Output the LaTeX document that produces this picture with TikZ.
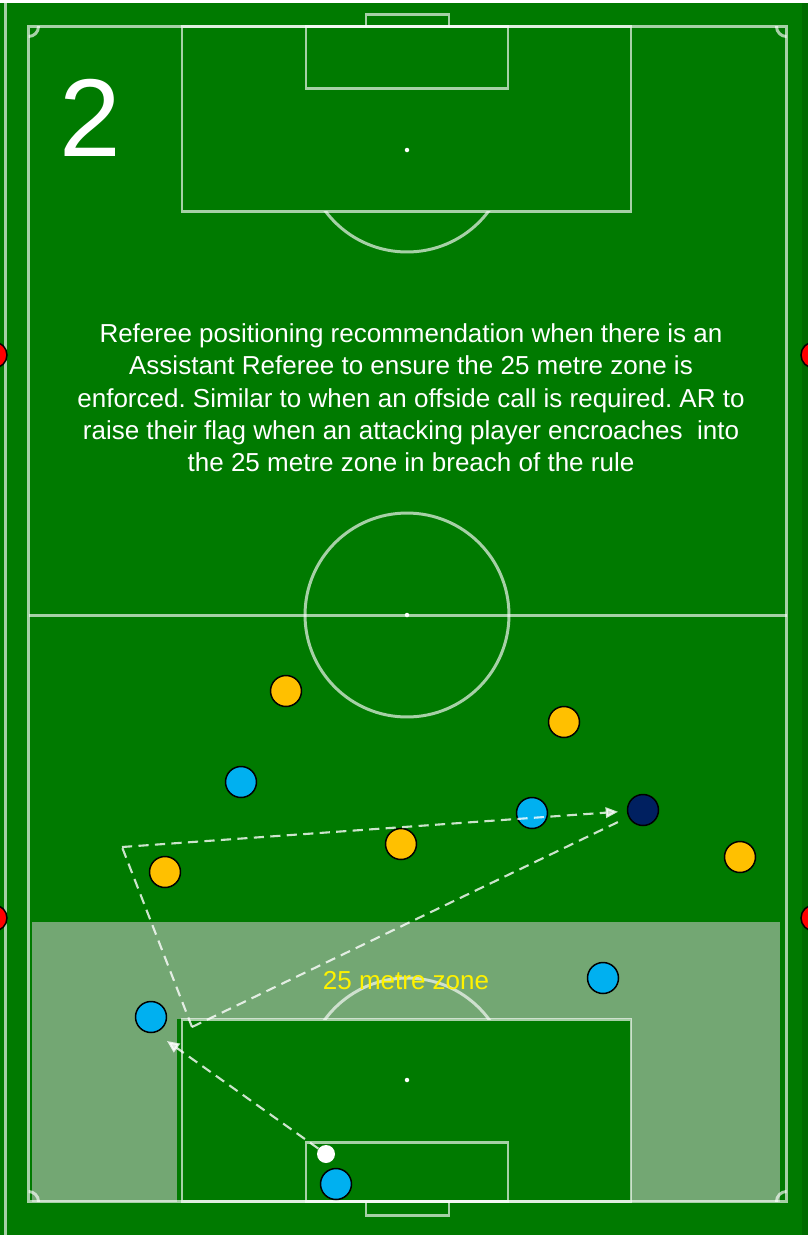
\documentclass[tikz,border=0pt]{standalone}
\usepackage{fontspec}
\setmainfont{Liberation Sans}
\usepackage{xcolor}
\usetikzlibrary{arrows.meta, positioning}
\frenchspacing

\definecolor{pitchgreen}{RGB}{0,122,0}
\definecolor{zonegreen}{RGB}{115,167,115}
\definecolor{attackyellow}{RGB}{255,192,0}
\definecolor{defendblue}{RGB}{0,176,240}
\definecolor{refnavy}{RGB}{0,32,96}
\definecolor{flagred}{RGB}{255,0,0}

\begin{document}
\begin{tikzpicture}[
        x=0.02cm, y=-0.02cm,
        every node/.style={font=\fontsize{14.8}{18.4}\selectfont, text=white},
        marking/.style={draw=white, draw opacity=0.65, line width=1.7pt},
        player/.style={draw=black, circle, line width=0.85pt, minimum size=0.62cm, inner sep=0pt},
        attacker/.style={player, fill=attackyellow},
        defender/.style={player, fill=defendblue},
        referee/.style={player, fill=refnavy},
        assistant/.style={player, fill=flagred, minimum size=0.52cm},
        matchball/.style={circle, fill=white, minimum size=0.36cm, inner sep=0pt},
        runline/.style={draw=white, opacity=0.8, line width=1.2pt, dash pattern=on 5.8pt off 3.6pt},
        passline/.style={runline, -{Triangle[length=7pt, width=6pt]}}
    ]
    \clip (0,0) rectangle (808,1235);
    % Pitch
    \fill[white] (0,0) rectangle (808,1235);
    \fill[pitchgreen] (0,3) rectangle (808,1235);
    \fill[pitchgreen!88!black] (802,3) rectangle (808,1235);
    \draw[marking] (5.5,3) -- (5.5,1235);

    % 25 metre zone
    \fill[zonegreen] (32,922) rectangle (780,1202);
    \fill[pitchgreen] (177,1019) rectangle (631,1202);

    % Markings
    \draw[marking] (28.5,26.5) rectangle (786.5,1201.5);
    \draw[marking] (28.5,615) -- (786.5,615);
    \draw[marking] (407,615) circle (2.04cm);
    \draw[marking] (182,26.5) rectangle (631,211);
    \draw[marking] (306,26.5) rectangle (508,88);
    \draw[marking] (366,26.5) -- (366,14) -- (449,14) -- (449,26.5);
    \draw[marking] (182,1019) rectangle (631,1201.5);
    \draw[marking] (306,1142) rectangle (508,1201.5);
    \draw[marking] (366,1201.5) -- (366,1215) -- (449,1215) -- (449,1201.5);
    \begin{scope}
        \clip (0,211) rectangle (808,400);
        \draw[marking] (407,150) circle (2.04cm);
    \end{scope}
    \begin{scope}
        \clip (0,850) rectangle (808,1019);
        \draw[marking] (407,1080) circle (2.04cm);
    \end{scope}
    \begin{scope}
        \clip (28.5,26.5) rectangle (786.5,1201.5);
        \foreach \cx/\cy in {28.5/26.5, 786.5/26.5, 28.5/1201.5, 786.5/1201.5}
            \draw[marking] (\cx,\cy) circle (0.2cm);
    \end{scope}
    \fill[white] (407,150) circle (0.045cm);
    \fill[white] (407,615) circle (0.045cm);
    \fill[white] (407,1080) circle (0.045cm);

    % Texts
    \node (number) at (90,118) [font=\fontsize{63}{63}\selectfont] {2};
    \node (note) at (411,398) [align=center] {Referee positioning recommendation when there is an\\
        Assistant Referee to ensure the 25 metre zone is\\
        enforced. Similar to when an offside call is required. AR to\\
        raise their flag when an attacking player encroaches\ \ into\\
        the 25 metre zone in breach of the rule};
    \node (zonelabel) at (406,981) [text=yellow] {25 metre zone};

    % Assistant referees
    \node (arleft1) [assistant] at (-6,355) {};
    \node (arleft2) [assistant] at (-6,918) {};
    \node (arright1) [assistant] at (814,355) {};
    \node (arright2) [assistant] at (814,918) {};

    % Players
    \node (att1) [attacker] at (286,691) {};
    \node (att2) [attacker] at (564,722) {};
    \node (att3) [attacker] at (401,844) {};
    \node (att4) [attacker] at (165,872) {};
    \node (att5) [attacker] at (740,857) {};
    \node (def1) [defender] at (241,782) {};
    \node (def2) [defender] at (532,813) {};
    \node (def3) [defender] at (603,978) {};
    \node (def4) [defender] at (151,1017) {};
    \node (def5) [defender] at (336,1184) {};
    \node (ref) [referee] at (643,810) {};
    \node (ball) [matchball] at (326,1154) {};

    % Movements
    \coordinate (runstart) at (192,1027);
    \coordinate (runcorner) at (122,847);
    \coordinate (receive) at (167,1041);
    \draw[runline] (runstart) -- (runcorner);
    \draw[passline, shorten >=5pt] (runcorner) -- (ref);
    \draw[runline, shorten >=5pt] (runstart) -- (ref);
    \draw[passline] (ball) -- (receive);

\end{tikzpicture}
\end{document}
